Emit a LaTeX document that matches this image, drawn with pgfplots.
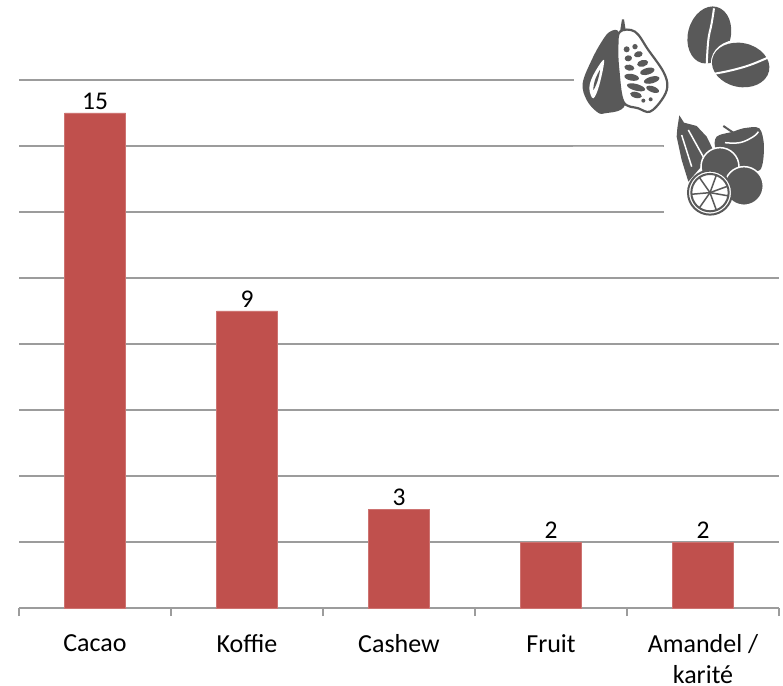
\documentclass[border=0pt]{standalone}
\usepackage{pgfplots}
\pgfplotsset{compat=1.18}
\usepackage{fontspec}
\setmainfont{Carlito}
\definecolor{barc}{HTML}{C0504D}
\definecolor{gridc}{HTML}{9C9C9C}
\definecolor{icon}{HTML}{595959}
\begin{document}
\begin{tikzpicture}[x=1pt,y=1pt]
\path (0,0) rectangle (783,685);
\begin{axis}[
  at={(19pt,77pt)}, anchor=south west,
  scale only axis, width=760pt, height=528pt,
  xmin=-0.5, xmax=4.5, ymin=0, ymax=16,
  ybar, bar width=61pt,
  axis x line=bottom, axis y line=left,
  axis line style={gridc,line width=1.5pt,-},
  x axis line style={-},
  y axis line style={draw=none},
  xtick={0,1,2,3,4},
  xticklabels={Cacao,Koffie,Cashew,Fruit,{Amandel /\\karité}},
  xticklabel style={font=\fontsize{26}{31.5}\selectfont,align=center,anchor=north,inner ysep=0pt,yshift=-26pt,text=black},
  major tick length=0pt,
  tick align=outside,
  extra x ticks={-0.5,0.5,1.5,2.5,3.5,4.5},
  extra x tick labels={},
  extra x tick style={major tick length=8pt,tick align=outside,tick style={gridc,line width=1.5pt},xticklabels={},grid=none},
  ytick={2,4,6,8,10,12,14,16},
  yticklabels={},
  ymajorgrids,
  y grid style={gridc,line width=1.5pt},
  nodes near coords,
  nodes near coords style={font=\fontsize{25.5}{30}\selectfont,text=black,inner sep=0pt,yshift=3pt,anchor=south},
  point meta=explicit symbolic,
  clip=false,
]
\addplot[fill=barc,draw=barc!80!white,line width=0.5pt] coordinates {
  (0,15) [15]
  (1,9) [9]
  (2,3) [3]
  (3,2) [2]
  (4,2) [2]
};
\end{axis}
% white background of the picture covering the gridlines
\fill[white] (573.5,685-50) rectangle (783,685-145);
\fill[white] (663.5,685-145) rectangle (783,685-225);
\draw[gridc!75!white,line width=0.8pt] (573,685-146.5) -- (663,685-146.5);
\begin{scope}[shift={(560,685)},x=0.3333pt,y=-0.3333pt]
 % cacao
 \fill[icon] plot[smooth cycle,tension=0.6] coordinates {(150,95) (125,125) (95,180) (68,250) (80,300) (110,335) (135,340) (195,315) (185,200) (178,100)};
 \fill[white] plot[smooth cycle,tension=0.6] coordinates {(132,180) (100,225) (88,265) (100,295) (118,255)};
 \fill[icon] plot[smooth cycle,tension=0.6] coordinates {(120,210) (105,240) (100,270) (112,245)};
 \fill[icon] (180,95) -- (186,58) -- (192,58) -- (197,90) -- cycle;
 \filldraw[draw=icon,fill=white,line width=2.2pt] plot[smooth cycle,tension=0.6] coordinates {(180,95) (225,95) (265,150) (310,215) (322,260) (305,300) (270,335) (235,325) (190,305) (175,210) (172,140)};
 \foreach \x/\y/\a/\b/\r in {200/148/9/9/0,225/140/8/8/0,205/175/11/9/10,235/163/13/9/15,208/203/15/9/-10,248/190/17/10/15,215/232/22/10/-10,262/214/22/10/15,228/262/28/10/-15,275/240/24/10/15,228/285/18/9/-15,278/268/20/9/-20,250/302/6/6/0,272/298/6/6/0}{
   \fill[icon,rotate around={\r:(\x,\y)}] (\x,\y) ellipse [x radius=\a, y radius=\b];
 }
 % coffee
 \fill[icon,rotate around={-15:(448,105)}] (448,105) ellipse [x radius=64, y radius=87];
 \draw[white,line width=2pt] plot[smooth,tension=0.7] coordinates {(462,25) (455,70) (445,120) (440,195)};
 \fill[white,rotate around={-12:(542,195)}] (542,195) ellipse [x radius=90, y radius=75];
 \fill[icon,rotate around={-12:(542,195)}] (542,195) ellipse [x radius=87, y radius=66];
 \draw[white,line width=2pt] plot[smooth,tension=0.7] coordinates {(458,222) (510,212) (570,195) (630,170)};
 % fruit
 \fill[icon] (358,346) -- (372,368) -- (410,378) -- (440,410) -- (462,455) -- (385,545) -- (365,480) -- (350,410) -- (352,385) -- cycle;
 \draw[white,line width=1.5pt] (385,390) -- (435,480) (365,405) -- (395,500);
 \fill[icon] plot[smooth cycle,tension=0.5] coordinates {(470,410) (520,395) (550,385) (598,385) (612,440) (600,510) (540,500) (470,450)};
 \draw[white,line width=1.5pt] plot[smooth,tension=0.7] coordinates {(495,428) (540,428) (580,410) (595,395)};
 \draw[icon,line width=2pt] (490,378) -- (530,405);
 \filldraw[fill=icon,draw=white,line width=1.5pt] (480,500) circle [radius=57];
 \filldraw[fill=icon,draw=white,line width=1.5pt] (552,558) circle [radius=58];
 \filldraw[fill=white,draw=icon,line width=2pt] (450,578) circle [radius=66];
 \draw[icon,line width=2pt] (450,578) circle [radius=56];
 \foreach \a in {10,70,125,175,235,290,340}{ \draw[icon,line width=1.5pt] (450,578) -- ++(\a:56); }
\end{scope}
\end{tikzpicture}
\end{document}
